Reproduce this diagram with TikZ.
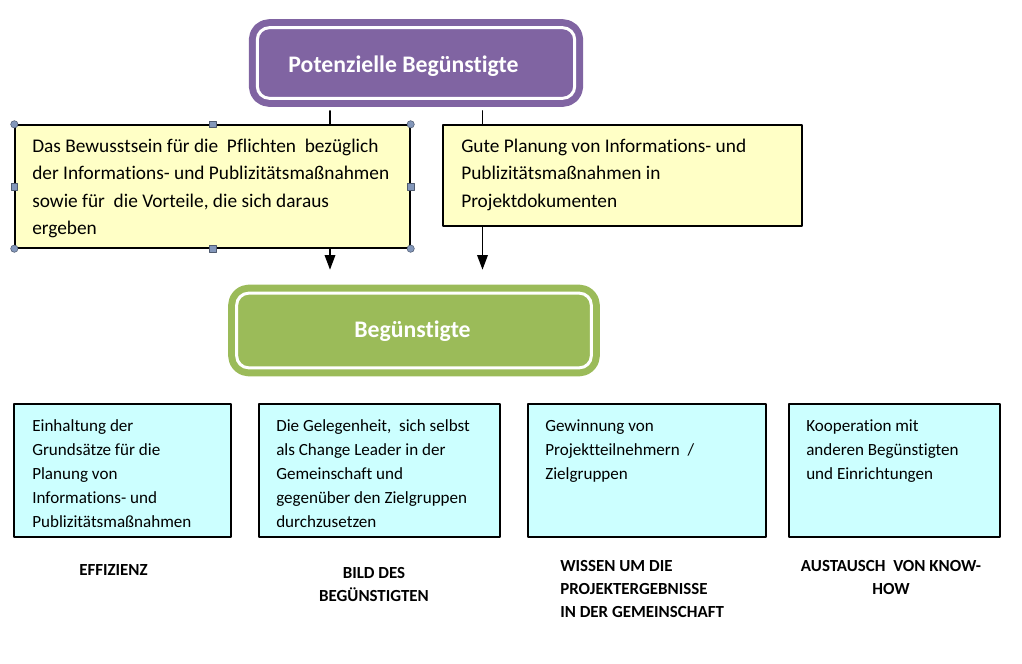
\documentclass[tikz,border=0pt]{standalone}
\usepackage{fontspec}
\setmainfont{Carlito}[Ligatures=CommonOff]
\usetikzlibrary{arrows.meta}
\definecolor{lila}{HTML}{8064A2}
\definecolor{gruen}{HTML}{9BBB59}
\definecolor{hellgelb}{HTML}{FFFFC6}
\definecolor{tuerkis}{HTML}{CCFFFF}
\definecolor{griff}{HTML}{8397BA}

\begin{document}
\begin{tikzpicture}[line cap=round,line join=round,>={Triangle[length=11pt,width=8pt]},x=0.75pt,y=-0.75pt,
  kopf/.style={rounded corners=9pt,draw=#1,fill=#1,line width=5.25pt,double=white,double distance=2.25pt,inner sep=0pt},
  kopftext/.style={anchor=base,text=white,font=\bfseries\fontsize{17.8}{21}\selectfont},
  gelbbox/.style={draw,line width=1pt,fill=hellgelb,inner sep=0pt},
  gelbtext/.style={anchor=north west,inner sep=0pt,align=left,font=\fontsize{14.5}{20.5}\selectfont,execute at begin node=\strut},
  blaubox/.style={draw,line width=1pt,fill=tuerkis,inner sep=0pt,minimum height=99.75pt},
  blautext/.style={anchor=north west,inner sep=0pt,align=left,font=\fontsize{12.8}{18}\selectfont,execute at begin node=\strut},
  ziel/.style={anchor=north,inner sep=0pt,font=\bfseries\fontsize{12.7}{17.25}\selectfont,execute at begin node=\strut},
  verbinder/.style={->,line width=1pt,shorten <=6.75pt,shorten >=15pt},
  griffrund/.style={circle,draw=griff!60!black,fill=griff,line width=0.4pt,inner sep=0pt,minimum size=5.5pt},
  griffeck/.style={rectangle,draw=griff!60!black,fill=griff,line width=0.4pt,inner sep=0pt,minimum size=5pt}]
\useasboundingbox (0,0) rectangle (1022,664);

%% oben und mitte
\node[kopf=lila,minimum width=238pt,minimum height=53pt] (pot) at (416,63) {};
\node[kopftext] (pottext) at (403.5,72.7) {Potenzielle Begünstigte};
\node[kopf=gruen,minimum width=266pt,minimum height=56pt] (ben) at (414,330.5) {};
\node[kopftext] (bentext) at (412.5,337.5) {Begünstigte};

\coordinate (links) at (330,0);
\coordinate (rechts) at (482.5,0);
\draw[verbinder] (links |- pot.south) -- (links |- ben.north);
\draw[verbinder] (rechts |- pot.south) -- (rechts |- ben.north);

\node[gelbbox,minimum width=296.25pt,minimum height=92.25pt] (gelbA) at (212.5,186.5) {};
\node[gelbtext] (gelbAtext) at (32,138.8) {Das Bewusstsein für die\ \ Pflichten\ \ bezüglich\\der Informations- und Publizitätsmaßnahmen\\sowie für\ \ die Vorteile, die sich daraus\\ergeben};
\node[gelbbox,minimum width=269.25pt,minimum height=75.75pt] (gelbB) at (622.5,175.5) {};
\node[gelbtext] (gelbBtext) at (461,138.8) {Gute Planung von Informations- und\\Publizitätsmaßnahmen in\\Projektdokumenten};

%% griffe
\foreach \a/\n in {north west/1,north east/2,south west/3,south east/4}
  \node[griffrund] (gr\n) at (gelbA.\a) {};
\foreach \a/\n in {north/1,south/2,west/3,east/4}
  \node[griffeck] (ge\n) at (gelbA.\a) {};

%% unten
\node[blaubox,minimum width=162.75pt] (effA) at (122.5,470.5) {};
\node[blautext] (effAtext) at (32,419.2) {Einhaltung der\\Grundsätze für die\\Planung von\\Informations- und\\Publizitätsmaßnahmen};
\node[blaubox,minimum width=180.75pt] (bildB) at (379.5,470.5) {};
\node[blautext] (bildBtext) at (276,419.2) {Die Gelegenheit,\ \ sich selbst\\als Change Leader in der\\Gemeinschaft und\\gegenüber den Zielgruppen\\durchzusetzen};
\node[blaubox,minimum width=178.5pt] (wisC) at (647,470.5) {};
\node[blautext] (wisCtext) at (545,419.2) {Gewinnung von\\Projektteilnehmern\ \ /\\Zielgruppen};
\node[blaubox,minimum width=158.25pt] (ausD) at (894.5,470.5) {};
\node[blautext] (ausDtext) at (806,419.2) {Kooperation mit\\anderen Begünstigten\\und Einrichtungen};

\node[ziel] (effizienz) at (113.5,558.9) {EFFIZIENZ};
\node[ziel,align=center] (bild) at (374,566.9) {BILD DES\\BEGÜNSTIGTEN};
\node[ziel,anchor=north west,align=left] (wissen) at (560,559.9) {WISSEN UM DIE\\PROJEKTERGEBNISSE\\IN DER GEMEINSCHAFT};
\node[ziel,align=center] (austausch) at (891,559.9) {AUSTAUSCH\ \ VON KNOW-\\HOW};
\end{tikzpicture}
\end{document}
